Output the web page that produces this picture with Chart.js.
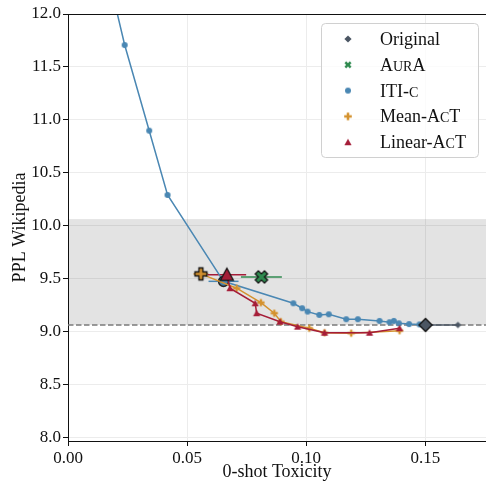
<!DOCTYPE html>
<html>
<head>
<meta charset="utf-8">
<script src="https://cdn.jsdelivr.net/npm/chart.js@4/dist/chart.umd.min.js"></script>
<style>
  html, body { margin: 0; padding: 0; background: #fff; overflow: hidden; }
  #wrap { width: 486px; height: 483px; }
</style>
</head>
<body>
<div id="wrap"><canvas id="chartPPL"></canvas></div>
<script>
// ticks
const xTicks = [0.00, 0.05, 0.10, 0.15];
const yTicks = [8.0, 8.5, 9.0, 9.5, 10.0, 10.5, 11.0, 11.5, 12.0];

// baseline PPL of the unsteered model (dashed line, band goes +1 above)
const originalPpl = 9.063;
const bandWidth = 1.0;

// Original
const originalX = [0.1501, 0.1637];
const originalY = [9.063, 9.063];

// AurA (single point, horizontal error)
const auraX = [0.0812];
const auraY = [9.517];
const auraErr = [0.0086];

// ITI-c sweep (index 4 is the highlighted one)
const itiX = [0.0160, 0.0238, 0.0341, 0.0418, 0.0653, 0.0946, 0.0983, 0.1006, 0.1055, 0.1095, 0.1168, 0.1217, 0.1308, 0.1350, 0.1368, 0.1389, 0.1432, 0.1476];
const itiY = [12.45, 11.707, 10.898, 10.291, 9.475, 9.268, 9.221, 9.189, 9.158, 9.164, 9.117, 9.117, 9.101, 9.089, 9.101, 9.079, 9.071, 9.068];
const itiErr = [0, 0, 0, 0, 0.0063, 0, 0, 0, 0, 0, 0, 0, 0, 0, 0, 0, 0, 0];

// Mean-AcT sweep (index 0 highlighted)
const meanX = [0.0558, 0.0708, 0.0810, 0.0866, 0.0894, 0.1013, 0.1077, 0.1189, 0.1392];
const meanY = [9.545, 9.410, 9.274, 9.174, 9.094, 9.032, 8.990, 8.985, 9.009];
const meanErr = [0.0031, 0, 0, 0, 0, 0, 0, 0, 0];

// Linear-AcT sweep (index 0 highlighted)
const linX = [0.0667, 0.0680, 0.0786, 0.0792, 0.0890, 0.0964, 0.1077, 0.1266, 0.1392];
const linY = [9.538, 9.410, 9.268, 9.174, 9.094, 9.047, 8.990, 8.990, 9.032];
const linErr = [0.0081, 0, 0, 0, 0, 0, 0, 0, 0];

// legend texts, second value = small caps part
const legendLabels = [
  [["Original", 0]],
  [["A", 0], ["UR", 1], ["A", 0]],
  [["ITI-", 0], ["C", 1]],
  [["Mean-A", 0], ["C", 1], ["T", 0]],
  [["Linear-A", 0], ["C", 1], ["T", 0]],
];

const SERIF = "'Liberation Serif', 'DejaVu Serif', serif";
const colOrig = "#4b5663";
const colAura = "#2f8a4f";
const colIti = "#4a87b3";
const colMean = "#d4922f";
const colLin = "#a51d38";

// marker images
function marker(kind, r, fill, edge, lw) {
  lw = lw || 0;
  const s = Math.ceil(2 * r + 2 * lw + 4);
  const c = document.createElement("canvas");
  c.width = s; c.height = s;
  const g = c.getContext("2d");
  g.translate(s / 2, s / 2);
  g.beginPath();
  if (kind === "circle") {
    g.arc(0, 0, r, 0, Math.PI * 2);
  } else {
    let pts;
    const w = r / 3;
    if (kind === "diamond") pts = [[0, -r], [r, 0], [0, r], [-r, 0]];
    if (kind === "triangle") pts = [[0, -r], [r, r * 0.85], [-r, r * 0.85]];
    if (kind === "plus" || kind === "x") {
      pts = [[-w, -r], [w, -r], [w, -w], [r, -w], [r, w], [w, w], [w, r], [-w, r], [-w, w], [-r, w], [-r, -w], [-w, -w]];
      if (kind === "x") {
        const a = Math.PI / 4;
        pts = pts.map(p => [p[0] * Math.cos(a) - p[1] * Math.sin(a), p[0] * Math.sin(a) + p[1] * Math.cos(a)]);
      }
    }
    g.moveTo(pts[0][0], pts[0][1]);
    for (let i = 1; i < pts.length; i++) g.lineTo(pts[i][0], pts[i][1]);
  }
  g.closePath();
  g.fillStyle = fill;
  g.fill();
  if (edge) {
    g.lineWidth = lw;
    g.strokeStyle = edge;
    g.lineJoin = "miter";
    g.stroke();
  }
  return c;
}

const mk = {
  origBig: marker("diamond", 6.5, colOrig, "#111", 1.3),
  origSmall: marker("diamond", 3.3, colOrig),
  auraBig: marker("x", 6.5, colAura, "#111", 1.3),
  itiBig: marker("circle", 5, colIti, "#111", 1.3),
  itiSmall: marker("circle", 3, colIti),
  meanBig: marker("plus", 6, colMean, "#111", 1.3),
  meanSmall: marker("plus", 3.6, colMean),
  linBig: marker("triangle", 6.5, colLin, "#111", 1.3),
  linSmall: marker("triangle", 3.6, colLin),
};
const legendMarkers = [
  marker("diamond", 3.6, colOrig),
  marker("x", 3.8, colAura),
  marker("circle", 3, colIti),
  marker("plus", 3.8, colMean),
  marker("triangle", 3.6, colLin),
];

function pts(xs, ys) {
  return xs.map((x, i) => ({ x: x, y: ys[i] }));
}
function styles(n, bigIdx, big, small) {
  const out = [];
  for (let i = 0; i < n; i++) out.push(i === bigIdx ? big : small);
  return out;
}

const datasets = [
  {
    label: "Original", data: pts(originalX, originalY), errs: [0, 0],
    borderColor: colOrig, pointStyle: [mk.origBig, mk.origSmall], order: 0,
  },
  {
    label: "AurA", data: pts(auraX, auraY), errs: auraErr,
    borderColor: colAura, pointStyle: [mk.auraBig], order: 4,
  },
  {
    label: "ITI-c", data: pts(itiX, itiY), errs: itiErr,
    borderColor: colIti, pointStyle: styles(itiX.length, 4, mk.itiBig, mk.itiSmall), order: 3,
  },
  {
    label: "Mean-AcT", data: pts(meanX, meanY), errs: meanErr,
    borderColor: colMean, pointStyle: styles(meanX.length, 0, mk.meanBig, mk.meanSmall), order: 2,
  },
  {
    label: "Linear-AcT", data: pts(linX, linY), errs: linErr,
    borderColor: colLin, pointStyle: styles(linX.length, 0, mk.linBig, mk.linSmall), order: 1,
  },
];
datasets.forEach(d => {
  d.showLine = true;
  d.borderWidth = 1.5;
  d.tension = 0;
  d.pointRadius = 4;
  d.backgroundColor = d.borderColor;
});

// band, dashed baseline, error bars, top spine, legend
const backdrop = {
  id: "backdrop",
  beforeDatasetsDraw(chart) {
    const { ctx, chartArea: a, scales } = chart;
    const y = scales.y, x = scales.x;
    ctx.save();
    const yTop = y.getPixelForValue(originalPpl + bandWidth);
    const yBase = y.getPixelForValue(originalPpl);
    ctx.fillStyle = "rgba(0,0,0,0.11)";
    ctx.fillRect(a.left, yTop, a.right - a.left, yBase - yTop);
    ctx.strokeStyle = "#7a7a7a";
    ctx.lineWidth = 1.5;
    ctx.setLineDash([5.5, 2.5]);
    ctx.beginPath();
    ctx.moveTo(a.left, yBase);
    ctx.lineTo(a.right, yBase);
    ctx.stroke();
    ctx.setLineDash([]);
    // error bars
    chart.data.datasets.forEach(ds => {
      ds.data.forEach((p, i) => {
        const e = ds.errs[i];
        if (!e) return;
        const py = y.getPixelForValue(p.y);
        ctx.strokeStyle = ds.borderColor;
        ctx.lineWidth = 1.5;
        ctx.beginPath();
        ctx.moveTo(x.getPixelForValue(p.x - e), py);
        ctx.lineTo(x.getPixelForValue(p.x + e), py);
        ctx.stroke();
      });
    });
    ctx.restore();
  },
  afterDraw(chart) {
    const { ctx, chartArea: a } = chart;
    ctx.save();
    ctx.strokeStyle = "#111";
    ctx.lineWidth = 1;
    ctx.beginPath();
    ctx.moveTo(a.left, a.top + 0.5);
    ctx.lineTo(a.right, a.top + 0.5);
    ctx.stroke();

    // legend box
    const bx = 321.5, by = 23.5, bw = 157, bh = 134, rr = 4;
    ctx.fillStyle = "rgba(255,255,255,0.8)";
    ctx.strokeStyle = "#d0d0d0";
    ctx.beginPath();
    ctx.roundRect(bx, by, bw, bh, rr);
    ctx.fill();
    ctx.stroke();
    ctx.textBaseline = "alphabetic";
    ctx.fillStyle = "#111";
    legendLabels.forEach((parts, i) => {
      const cy = 39 + i * 25.8;
      const m = legendMarkers[i];
      ctx.drawImage(m, 348 - m.width / 2, cy - m.height / 2);
      let tx = 380;
      parts.forEach(([txt, sc]) => {
        ctx.font = (sc ? "14px " : "18px ") + SERIF;
        ctx.fillText(txt, tx, cy + 6);
        tx += ctx.measureText(txt).width;
      });
    });
    ctx.restore();
  },
};

new Chart(document.getElementById("chartPPL"), {
  type: "scatter",
  data: { datasets: datasets },
  options: {
    responsive: true,
    maintainAspectRatio: false,
    animation: false,
    events: [],
    layout: { autoPadding: false, padding: { top: 14, right: 0, left: 0, bottom: 0 } },
    plugins: { legend: { display: false }, tooltip: { enabled: false } },
    scales: {
      x: {
        type: "linear",
        min: 0,
        max: 0.1755,
        afterBuildTicks: s => { s.ticks = xTicks.map(v => ({ value: v })); },
        afterFit: s => { s.height = 42; s.paddingRight = 0; s.paddingLeft = 0; },
        ticks: {
          callback: v => v.toFixed(2),
          font: { family: SERIF, size: 17 },
          color: "#111",
          padding: 2,
          maxRotation: 0,
        },
        grid: { color: "#ececec", tickColor: "#111", tickLength: 5, lineWidth: 1 },
        border: { color: "#111", width: 1 },
        title: {
          display: true,
          text: "0-shot Toxicity",
          font: { family: SERIF, size: 18 },
          color: "#111",
          padding: { top: 0, bottom: 0 },
        },
      },
      y: {
        type: "linear",
        min: 7.967,
        max: 12.0,
        afterBuildTicks: s => { s.ticks = yTicks.map(v => ({ value: v })); },
        afterFit: s => { s.width = 68; },
        ticks: {
          callback: v => v.toFixed(1),
          font: { family: SERIF, size: 17 },
          color: "#111",
          padding: 2,
        },
        grid: { color: "#ececec", tickColor: "#111", tickLength: 5, lineWidth: 1 },
        border: { color: "#111", width: 1 },
        title: {
          display: true,
          text: "PPL Wikipedia",
          font: { family: SERIF, size: 18 },
          color: "#111",
          padding: { top: 9, bottom: 0 },
        },
      },
    },
  },
  plugins: [backdrop],
});
</script>
</body>
</html>
